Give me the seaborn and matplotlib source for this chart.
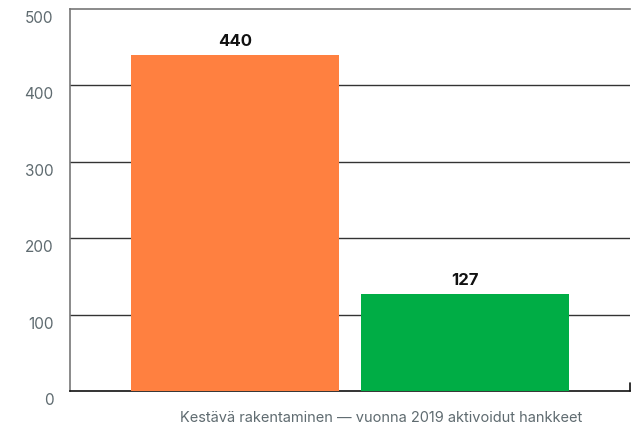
import matplotlib
matplotlib.use("Agg")
import matplotlib.pyplot as plt
import matplotlib.transforms as mtransforms
import seaborn as sns
import pandas as pd

# Data
categories = ["Kategoria A", "Kategoria B"]
values = [440, 127]
bar_colors = ["#FF8040", "#00AD45"]
y_ticks = [0, 100, 200, 300, 400, 500]
x_label = "Kestävä rakentaminen — vuonna 2019 aktivoidut hankkeet"

sns.set_theme(style="white")
plt.rcParams['font.family'] = ['Inter', 'DejaVu Sans']

df = pd.DataFrame({"cat": categories, "val": values})

fig = plt.figure(figsize=(6.34, 4.26), dpi=100)
ax = fig.add_axes([70 / 634, 1 - 391 / 426, 560 / 634, 382 / 426])

sns.barplot(data=df, x="cat", y="val", hue="cat", palette=bar_colors,
            width=0.904, saturation=1, legend=False, linewidth=0,
            ax=ax, zorder=3)

ax.set_ylim(0, 500)
ax.set_xlim(-0.717, 1.717)
ax.set_yticks(y_ticks)
ax.set_xticks([])

# grid lines
for t in y_ticks[1:-1]:
    ax.axhline(t, color="#333333", lw=1, zorder=1)

for s in ["top", "left"]:
    ax.spines[s].set_color("#777777")
    ax.spines[s].set_linewidth(1.2)
ax.spines["right"].set_visible(False)
ax.spines["bottom"].set_color("#111111")
ax.spines["bottom"].set_linewidth(1.2)
ax.axvline(1.717, ymin=0, ymax=0.022, color="#111111", lw=1.2, clip_on=False)

ax.tick_params(axis="y", length=0, labelsize=11, labelcolor="#5f6b70", pad=12)
offset = mtransforms.ScaledTranslation(0, -8 / 100, fig.dpi_scale_trans)
for lbl in ax.get_yticklabels():
    lbl.set_transform(lbl.get_transform() + offset)

for i, v in enumerate(values):
    ax.text(i, v + 8, str(v), ha="center", va="bottom", fontsize=12,
            fontweight="bold", color="#111111")

ax.set_ylabel("")
ax.set_xlabel(x_label, fontsize=10.5, color="#5f6b70")
ax.xaxis.set_label_coords((381 - 70) / 560, -27 / 382)
ax.xaxis.label.set_va("center")

fig.savefig("out.png", dpi=100)
